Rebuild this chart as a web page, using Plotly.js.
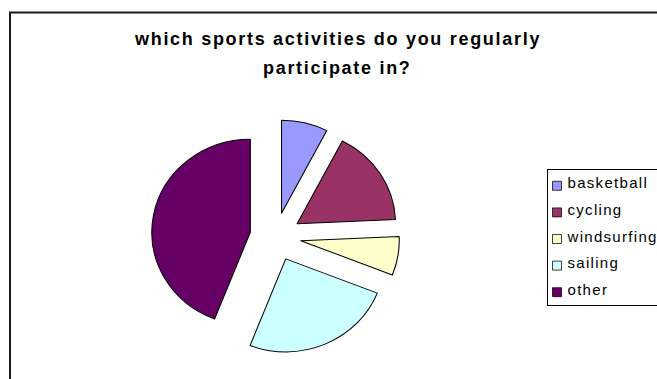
<!DOCTYPE html>
<html>
<head>
<meta charset="utf-8">
<script src="https://cdn.plot.ly/plotly-3.0.1.min.js"></script>
<style>
  html, body { margin: 0; padding: 0; background: #fff; }
  #chart { width: 657px; height: 379px; }
  .annotation-text { letter-spacing: 1.7px; }
  /* Excel-style legend: compact symbol column, spaced text */
  .main-svg g.legend { transform: translate(546.5px, 169px) !important; }
  .main-svg g.legend rect.bg { width: 110px !important; height: 136px !important; }
  .main-svg .legendtext { font-size: 15px !important; letter-spacing: 1.3px; transform: translate(-20px, -7px); }
  .main-svg .legendpoints path { transform: translate(9.5px, -2.5px) scale(0.75); }
  /* Excel draws this pie slightly wider than tall */
  .main-svg .pielayer { transform-origin: 275.5px 236.7px; transform: scale(1.059, 1); }
</style>
</head>
<body>
<div id="chart"></div>
<script>
const categories = ["basketball", "cycling", "windsurfing", "sailing", "other"];
const shares = [7.6, 16.7, 6.7, 24.9, 44.1];
const sliceColors = ["#9999FF", "#993366", "#FFFFCC", "#CCFFFF", "#660066"];
const titleLines = ["which sports activities do you regularly", "participate in?"];

const W = 657, H = 379;
const pullFrac = 0.26;

const trace = {
  type: "pie",
  labels: categories,
  values: shares,
  sort: false,
  direction: "clockwise",
  rotation: 0,
  pull: categories.map(() => pullFrac),
  marker: { colors: sliceColors, line: { color: "#000000", width: 1 } },
  textinfo: "none",
  hoverinfo: "label+percent",
  domain: { x: [158.3 / W, 392.7 / W], y: [1 - 353.9 / H, 1 - 119.5 / H] }
};

const layout = {
  width: W,
  height: H,
  margin: { l: 0, r: 0, t: 0, b: 0, pad: 0, autoexpand: false },
  paper_bgcolor: "#ffffff",
  font: { family: "Liberation Sans, Arial, sans-serif", color: "#000000" },
  showlegend: true,
  legend: {
    x: 0.3, xanchor: "left",
    y: 0.9, yanchor: "top",
    bgcolor: "#ffffff",
    bordercolor: "#000000",
    borderwidth: 1,
    font: { family: "Liberation Sans, Arial, sans-serif", size: 18.15, color: "#000000" },
    itemclick: false
  },
  annotations: [
    {
      text: titleLines[0], xref: "paper", yref: "paper",
      x: 337 / W, y: 1 - 39 / H, xanchor: "center", yanchor: "middle",
      showarrow: false,
      font: { family: "Liberation Sans, Arial, sans-serif", size: 18, weight: "bold", color: "#000000" }
    },
    {
      text: titleLines[1], xref: "paper", yref: "paper",
      x: 337 / W, y: 1 - 67.6 / H, xanchor: "center", yanchor: "middle",
      showarrow: false,
      font: { family: "Liberation Sans, Arial, sans-serif", size: 18, weight: "bold", color: "#000000" }
    }
  ],
  shapes: [
    {
      type: "rect", xref: "paper", yref: "paper",
      x0: 10 / W, x1: 1.05, y0: -0.05, y1: 1 - 12.5 / H,
      line: { color: "#1a1a1a", width: 2 },
      fillcolor: "rgba(0,0,0,0)",
      layer: "below"
    }
  ]
};

Plotly.newPlot("chart", [trace], layout, { displayModeBar: false, staticPlot: true });
</script>
</body>
</html>
